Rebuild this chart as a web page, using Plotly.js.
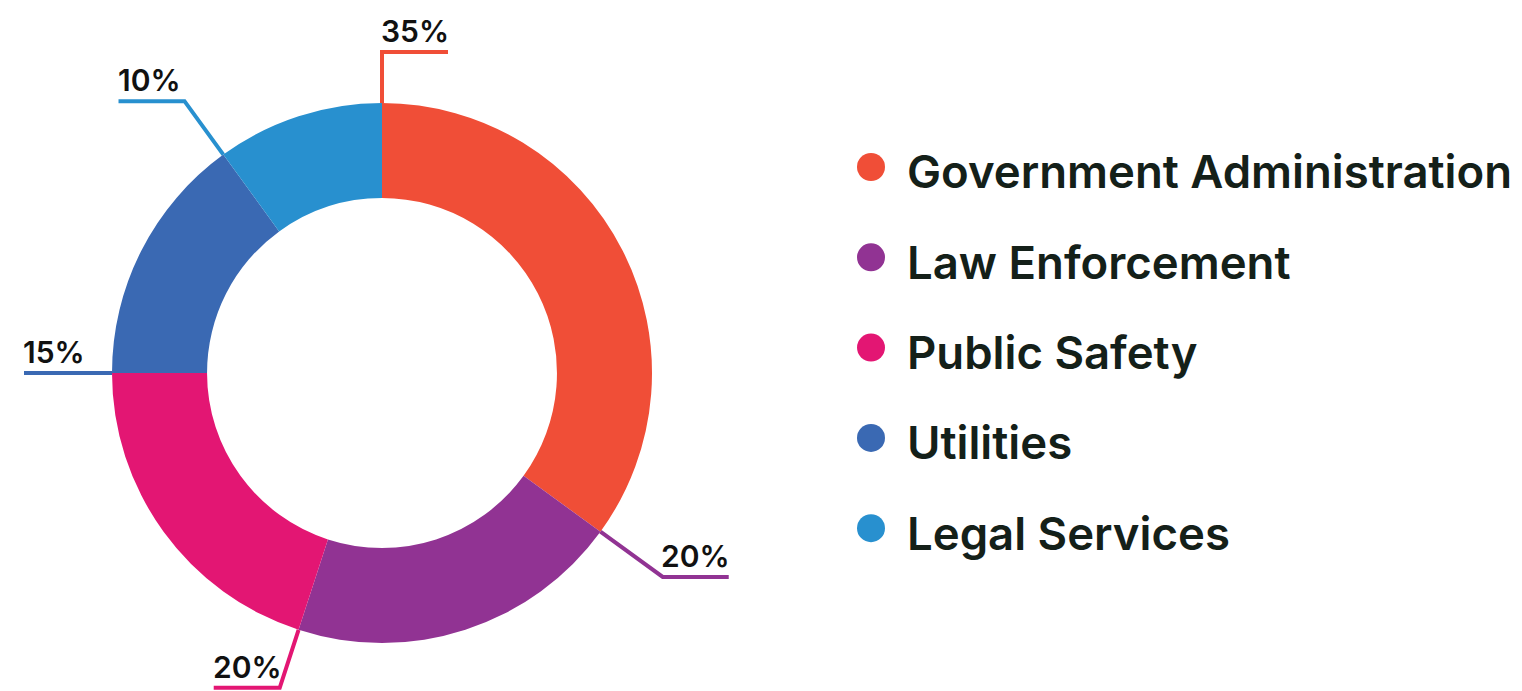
<!DOCTYPE html>
<html>
<head>
<meta charset="utf-8">
<script src="https://cdn.plot.ly/plotly-3.0.1.min.js"></script>
<style>html,body{margin:0;padding:0;background:#fff;}#chart{width:1522px;height:691px;}</style>
</head>
<body>
<div id="chart"></div>
<script>
// ---- data ----
const categories = ["Government Administration", "Law Enforcement", "Public Safety", "Utilities", "Legal Services"];
const shares = [35, 20, 20, 15, 10];
const percentLabels = ["35%", "20%", "20%", "15%", "10%"];
const sliceColors = ["#F04E37", "#913393", "#E31673", "#3A69B3", "#2890CF"];

// ---- styling / layout constants ----
const W = 1522, H = 691;
const pieLeft = 112, pieRight = 652, pieTop = 103, pieBottom = 643;
const leaderRadial = [51, 77, 61, 22, 66];
const leaderHoriz = 66;
const FONT = "Inter, 'Noto Sans', sans-serif";

const px2x = p => p / W;
const py2y = p => 1 - p / H;

const cx = (pieLeft + pieRight) / 2, cy = (pieTop + pieBottom) / 2;
const R = (pieRight - pieLeft) / 2;

const total = shares.reduce((a, b) => a + b, 0);
const shapes = [], annotations = [];
let cum = 0;
shares.forEach((v, i) => {
  const ang = cum / total * 2 * Math.PI; // start angle of slice, clockwise from top
  cum += v;
  const sx = cx + R * Math.sin(ang), sy = cy - R * Math.cos(ang);
  const ex = sx + leaderRadial[i] * Math.sin(ang), ey = sy - leaderRadial[i] * Math.cos(ang);
  const dir = Math.sin(ang) < -1e-6 ? -1 : 1;
  const hx = ex + dir * leaderHoriz;
  shapes.push({
    type: "path", xref: "paper", yref: "paper",
    path: `M ${px2x(sx)} ${py2y(sy)} L ${px2x(ex)} ${py2y(ey)} L ${px2x(hx)} ${py2y(ey)}`,
    line: {color: sliceColors[i], width: 4}
  });
  annotations.push({
    xref: "paper", yref: "paper", x: px2x(hx), y: py2y(ey),
    xanchor: dir > 0 ? "right" : "left", yanchor: "bottom", yshift: 1,
    xshift: dir > 0 ? 3 : -3,
    text: percentLabels[i], showarrow: false,
    font: {family: FONT, size: 30, color: "#111111", weight: 600}
  });
});

// legend (custom, circle markers)
const legX = 871, legTextX = 905, legY0 = 172, legStep = 90.3, legR = 14;
categories.forEach((c, i) => {
  const yy = legY0 + i * legStep;
  shapes.push({
    type: "circle", xref: "paper", yref: "paper",
    x0: px2x(legX - legR), x1: px2x(legX + legR),
    y0: py2y(yy - 5 - legR), y1: py2y(yy - 5 + legR),
    fillcolor: sliceColors[i], line: {width: 0}
  });
  annotations.push({
    xref: "paper", yref: "paper", x: px2x(legTextX), y: py2y(yy),
    xanchor: "left", yanchor: "middle", text: c, showarrow: false,
    font: {family: FONT, size: 45.5, color: "#142019", weight: 600}
  });
});

const trace = {
  type: "pie",
  values: shares,
  labels: categories,
  marker: {colors: sliceColors, line: {width: 0}},
  hole: 0.648,
  sort: false,
  direction: "clockwise",
  rotation: 0,
  textinfo: "none",
  hoverinfo: "label+percent",
  showlegend: false,
  domain: {x: [px2x(pieLeft), px2x(pieRight)], y: [py2y(pieBottom), py2y(pieTop)]}
};

Plotly.newPlot("chart", [trace], {
  width: W, height: H,
  margin: {l: 0, r: 0, t: 0, b: 0},
  paper_bgcolor: "#ffffff",
  showlegend: false,
  shapes: shapes,
  annotations: annotations
}, {displayModeBar: false, staticPlot: true});
</script>
</body>
</html>
